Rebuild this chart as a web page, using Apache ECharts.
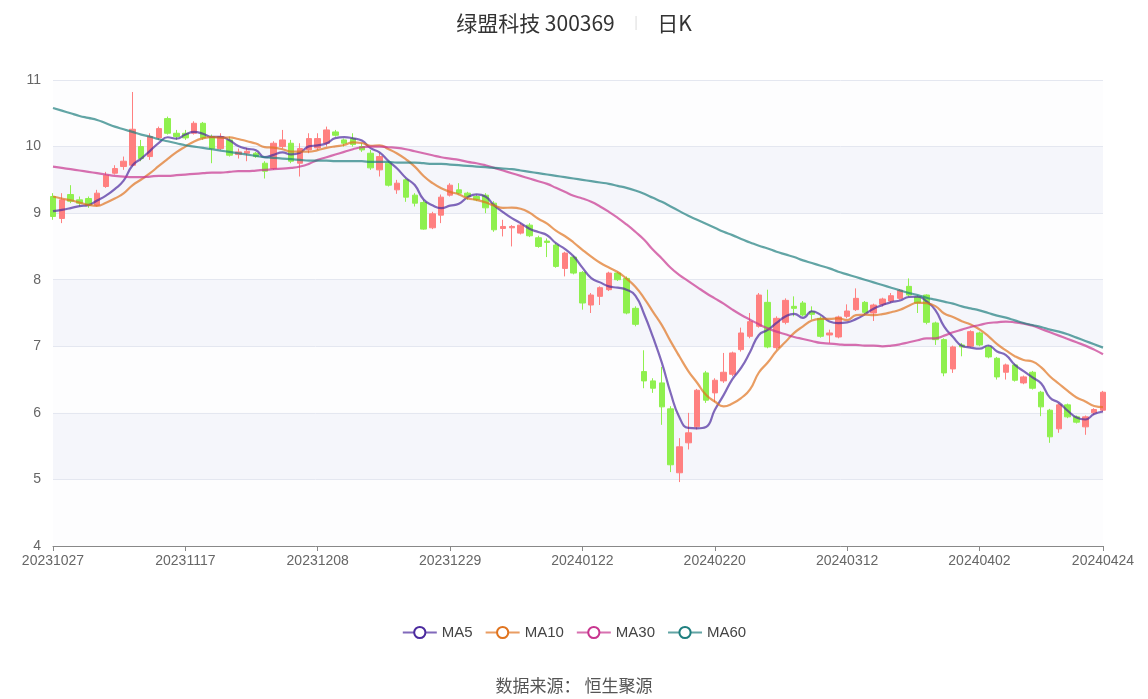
<!DOCTYPE html>
<html><head><meta charset="utf-8">
<script src="https://cdn.jsdelivr.net/npm/echarts@6/dist/echarts.min.js"></script>
<style>html,body{margin:0;padding:0;background:#fff}#c{width:1148px;height:699px}</style>
</head><body><div id="c"></div>
<script>
const dates = ["20231027","20231030","20231031","20231101","20231102","20231103","20231106","20231107","20231108","20231109","20231110","20231113","20231114","20231115","20231116","20231117","20231120","20231121","20231122","20231123","20231124","20231127","20231128","20231129","20231130","20231201","20231204","20231205","20231206","20231207","20231208","20231211","20231212","20231213","20231214","20231215","20231218","20231219","20231220","20231221","20231222","20231225","20231226","20231227","20231228","20231229","20240102","20240103","20240104","20240105","20240108","20240109","20240110","20240111","20240112","20240115","20240116","20240117","20240118","20240119","20240122","20240123","20240124","20240125","20240126","20240129","20240130","20240131","20240201","20240202","20240205","20240206","20240207","20240208","20240219","20240220","20240221","20240222","20240223","20240226","20240227","20240228","20240229","20240301","20240304","20240305","20240306","20240307","20240308","20240311","20240312","20240313","20240314","20240315","20240318","20240319","20240320","20240321","20240322","20240325","20240326","20240327","20240328","20240329","20240401","20240402","20240403","20240408","20240409","20240410","20240411","20240412","20240415","20240416","20240417","20240418","20240419","20240422","20240423","20240424"];
// [open, close, low, high]
const ohlc = [[9.25,8.95,8.9,9.3],[8.92,9.2,8.85,9.3],[9.28,9.18,9.15,9.42],[9.2,9.15,9.1,9.25],[9.22,9.12,9.08,9.25],[9.12,9.3,9.1,9.35],[9.4,9.57,9.38,9.62],[9.6,9.67,9.58,9.72],[9.7,9.78,9.65,9.85],[9.72,10.26,9.7,10.82],
[10.0,9.82,9.78,10.1],[9.85,10.15,9.8,10.2],[10.13,10.27,10.1,10.3],[10.42,10.2,10.18,10.45],[10.2,10.15,10.1,10.25],[10.2,10.13,10.1,10.25],[10.2,10.35,10.18,10.38],[10.35,10.13,10.1,10.37],[10.15,9.97,9.75,10.18],[9.97,10.15,9.95,10.2],
[10.1,9.87,9.85,10.15],[9.88,9.92,9.82,9.97],[9.9,9.93,9.78,9.98],[9.9,9.85,9.83,9.92],[9.75,9.63,9.52,9.78],[9.67,10.05,9.65,10.08],[10.0,10.1,9.97,10.25],[10.05,9.78,9.75,10.1],[9.75,9.97,9.55,10.05],[9.95,10.12,9.9,10.2],
[9.98,10.12,9.95,10.2],[10.05,10.25,10.0,10.3],[10.22,10.17,10.15,10.25],[10.1,10.05,10.0,10.12],[10.12,10.03,10.0,10.2],[10.0,9.95,9.92,10.05],[9.9,9.68,9.65,9.95],[9.65,9.85,9.55,9.9],[9.75,9.42,9.4,9.78],[9.35,9.45,9.29,9.5],
[9.5,9.24,9.17,9.52],[9.27,9.15,9.1,9.3],[9.16,8.76,8.75,9.2],[8.78,8.99,8.76,9.02],[8.97,9.24,8.85,9.28],[9.27,9.42,9.25,9.45],[9.35,9.3,9.28,9.45],[9.3,9.25,9.2,9.32],[9.25,9.2,9.18,9.28],[9.27,9.08,9.0,9.3],
[9.15,8.75,8.72,9.18],[8.77,8.8,8.65,8.9],[8.78,8.8,8.5,8.82],[8.7,8.82,8.68,8.85],[8.82,8.66,8.64,8.85],[8.63,8.5,8.48,8.66],[8.58,8.56,8.34,8.62],[8.52,8.2,8.18,8.55],[8.17,8.4,8.05,8.42],[8.34,8.1,8.08,8.36],
[8.11,7.65,7.55,8.13],[7.62,7.77,7.5,7.8],[7.75,7.88,7.62,7.9],[7.85,8.1,7.83,8.12],[8.1,8.0,7.98,8.12],[8.02,7.5,7.48,8.05],[7.57,7.33,7.3,7.6],[6.62,6.48,6.37,6.94],[6.48,6.37,6.3,6.52],[6.45,6.09,5.82,6.69],
[6.06,5.22,5.11,6.1],[5.1,5.49,4.96,5.62],[5.55,5.7,5.45,6.0],[5.79,6.34,5.75,6.36],[6.6,6.19,6.15,6.63],[6.3,6.49,6.16,6.52],[6.48,6.61,6.45,6.9],[6.58,6.9,6.55,6.92],[6.95,7.2,6.92,7.28],[7.15,7.37,7.12,7.5],
[7.3,7.77,7.28,7.8],[7.66,6.99,6.97,7.85],[6.98,7.42,6.95,7.45],[7.36,7.69,7.33,7.72],[7.6,7.57,7.45,7.75],[7.65,7.47,7.45,7.68],[7.52,7.48,7.4,7.6],[7.42,7.15,7.13,7.45],[7.17,7.2,7.05,7.25],[7.14,7.44,7.12,7.46],
[7.45,7.53,7.42,7.63],[7.55,7.72,7.53,7.87],[7.66,7.51,7.48,7.68],[7.5,7.62,7.38,7.64],[7.63,7.71,7.6,7.73],[7.68,7.76,7.65,7.8],[7.72,7.84,7.7,7.86],[7.9,7.77,7.75,8.02],[7.74,7.65,7.5,7.76],[7.77,7.36,7.33,7.78],
[7.35,7.1,7.02,7.37],[7.1,6.6,6.55,7.12],[6.66,6.99,6.6,7.01],[7.02,6.99,6.85,7.05],[7.0,7.22,6.98,7.24],[7.2,7.02,7.0,7.22],[6.99,6.84,6.82,7.01],[6.82,6.54,6.5,6.84],[6.61,6.72,6.5,6.74],[6.72,6.49,6.47,6.74],
[6.45,6.54,6.43,6.56],[6.61,6.37,6.35,6.63],[6.31,6.09,5.95,6.33],[6.04,5.64,5.55,6.06],[5.76,6.12,5.7,6.14],[6.12,5.94,5.92,6.14],[5.94,5.86,5.84,5.96],[5.79,5.94,5.67,5.96],[6.0,6.05,5.97,6.07],[6.04,6.31,6.02,6.33]];
// closes before the first visible day (for MA5/MA10)
const priorCloses = [9.5,9.45,9.5,9.45,9.45,9.1,9.05,9.0,9.05];
const ma30 = [9.70,9.68,9.66,9.64,9.62,9.60,9.58,9.56,9.55,9.54,
9.54,9.55,9.56,9.56,9.57,9.58,9.59,9.60,9.61,9.61,
9.62,9.63,9.63,9.64,9.65,9.66,9.67,9.68,9.70,9.74,
9.80,9.84,9.88,9.92,9.96,9.99,10.00,10.00,9.99,9.98,
9.96,9.93,9.90,9.87,9.84,9.82,9.80,9.77,9.75,9.72,
9.68,9.64,9.60,9.56,9.52,9.48,9.44,9.38,9.32,9.26,
9.22,9.17,9.10,9.02,8.93,8.83,8.72,8.60,8.45,8.32,
8.18,8.07,7.98,7.89,7.80,7.72,7.64,7.55,7.47,7.40,
7.33,7.27,7.22,7.18,7.14,7.11,7.08,7.05,7.04,7.03,
7.02,7.02,7.01,7.01,7.00,7.01,7.03,7.06,7.09,7.12,
7.12,7.16,7.21,7.25,7.29,7.32,7.35,7.36,7.37,7.36,
7.34,7.31,7.26,7.21,7.16,7.11,7.06,7.01,6.95,6.88];
const ma60 = [10.58,10.54,10.50,10.46,10.43,10.40,10.35,10.30,10.26,10.22,
10.18,10.15,10.11,10.08,10.05,10.02,10.00,9.98,9.96,9.94,
9.92,9.90,9.88,9.86,9.84,9.83,9.82,9.81,9.80,9.79,
9.79,9.79,9.78,9.78,9.78,9.78,9.77,9.77,9.77,9.76,
9.76,9.76,9.75,9.74,9.74,9.73,9.72,9.71,9.70,9.69,
9.68,9.67,9.66,9.64,9.62,9.60,9.58,9.56,9.54,9.52,
9.50,9.48,9.46,9.44,9.41,9.38,9.34,9.29,9.23,9.17,
9.10,9.03,8.96,8.90,8.84,8.78,8.72,8.67,8.61,8.56,
8.51,8.47,8.42,8.38,8.34,8.29,8.25,8.21,8.17,8.12,
8.08,8.04,8.00,7.96,7.92,7.88,7.84,7.80,7.77,7.73,
7.70,7.67,7.64,7.60,7.57,7.54,7.50,7.46,7.43,7.39,
7.35,7.32,7.29,7.25,7.22,7.18,7.13,7.08,7.03,6.98];
const yTicks = [4,5,6,7,8,9,10,11];

const closes = priorCloses.concat(ohlc.map(d => d[1]));
function ma(n){
  const off = priorCloses.length;
  return ohlc.map((_, i) => {
    let s = 0; for (let k = 0; k < n; k++) s += closes[off + i - k];
    return +(s / n).toFixed(3);
  });
}
const last = dates.length - 1;
const chart = echarts.init(document.getElementById('c'));
const lineS = (name, data, color) => ({
  name, type: 'line', data, smooth: true, showSymbol: false, symbol: 'emptyCircle', symbolSize: 10,
  itemStyle: { color, borderWidth: 2 }, lineStyle: { color, width: 2.2, opacity: 0.7 }, z: 3
});
chart.setOption({
  animation: false,
  title: [{
    text: '{a|绿盟科技 300369}{s|     |     }{a|日K}', left: 'center', top: 8,
    textStyle: { fontWeight: 'normal', rich: { a: { fontSize: 21, color: '#333', fontWeight: 'normal', fontFamily: 'Noto Sans CJK SC' }, s: { fontSize: 14, color: '#e2e2e2' } } }
  }, {
    text: '数据来源： 恒生聚源', left: 'center', top: 672,
    textStyle: { fontSize: 17, color: '#555', fontWeight: 'normal', fontFamily: 'Noto Sans CJK SC' }
  }],
  legend: {
    bottom: 54, left: 'center', itemWidth: 34, itemHeight: 14, itemGap: 12,
    textStyle: { fontSize: 15, color: '#444' },
    data: ['MA5', 'MA10', 'MA30', 'MA60']
  },
  grid: { left: 53, right: 45, top: 80, bottom: 153 },
  xAxis: {
    type: 'category', data: dates, boundaryGap: false,
    axisLine: { lineStyle: { color: '#888' } },
    axisTick: { interval: (i) => i % 15 === 0 || i === last, lineStyle: { color: '#888' } },
    axisLabel: { interval: (i) => i % 15 === 0 || i === last, color: '#666', fontSize: 14, showMaxLabel: true },
    splitLine: { show: false }
  },
  yAxis: {
    type: 'value', min: 4, max: 11, interval: 1, scale: true,
    axisLine: { show: false }, axisTick: { show: false },
    axisLabel: { color: '#666', fontSize: 14, margin: 12, formatter: v => yTicks.includes(v) ? String(v) : '' },
    splitLine: { lineStyle: { color: '#e4e7f0' } },
    splitArea: { show: true, areaStyle: { color: ['#fdfdfe', '#f5f6fb'] } }
  },
  series: [
    { name: 'K', type: 'candlestick', data: ohlc, barWidth: 6,
      itemStyle: { color: '#ff8080', color0: '#8ff04e', borderColor: '#ff8080', borderColor0: '#8ff04e', borderWidth: 1 } },
    lineS('MA5', ma(5), '#4b2a9e'),
    lineS('MA10', ma(10), '#e0741f'),
    lineS('MA30', ma30, '#c8358f'),
    lineS('MA60', ma60, '#1f7f7f')
  ]
});
</script></body></html>
